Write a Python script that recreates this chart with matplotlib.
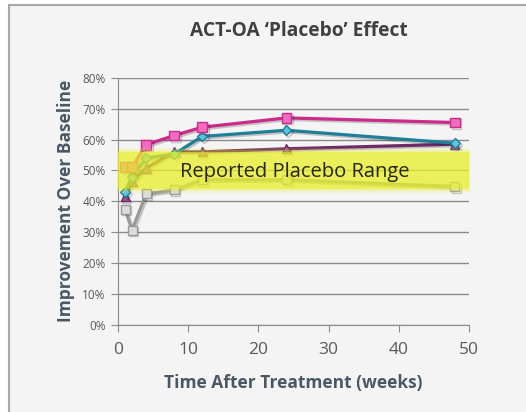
import matplotlib
matplotlib.use("Agg")
import matplotlib.pyplot as plt
import matplotlib.patheffects as pe
from matplotlib.patches import Rectangle
from matplotlib.ticker import FuncFormatter

plt.rcParams['font.family'] = ['Open Sans', 'DejaVu Sans']

# weeks after treatment
weeks = [1, 2, 4, 8, 12, 24, 48]

# improvement over baseline (%)
magenta_vals = [51, 51, 58.3, 61.3, 64, 67, 65.5]
teal_vals = [43, 48, 54, 55.3, 61, 63, 58.8]
purple_vals = [41.5, 46.5, 50.7, 56, 56, 57, 58.5]
gray_vals = [37.5, 30.7, 42.4, 43.7, 47, 47, 44.8]

band_low, band_high = 44, 56
band_text = "Reported Placebo Range"

fig = plt.figure(figsize=(5.26, 4.12), dpi=100)
fig.patch.set_facecolor("white")
# chart frame
fig.patches.append(Rectangle((9/526, -0.1), 1.2, 1.1 - 5/412, transform=fig.transFigure,
                             facecolor="#f4f4f4", edgecolor="#a8a8a8", lw=1.5, zorder=-5))

ax = fig.add_axes([118/526, 1 - 325/412, 351/526, (325 - 77.7)/412])
ax.set_facecolor("none")

shadow = [pe.SimpleLineShadow(offset=(1.2, -1.2), alpha=0.2), pe.Normal()]

ax.plot(weeks, gray_vals, color="#999999", lw=2.3, marker="s", ms=6.5,
        mfc="#dcdcdc", mec="#9a9a9a", mew=1, zorder=3, path_effects=shadow)
ax.plot(weeks, purple_vals, color="#6e2a68", lw=2.3, marker="^", ms=6.5,
        mfc="#9c5a92", mec="#6e2a68", mew=1, zorder=4, path_effects=shadow)
ax.plot(weeks, teal_vals, color="#1e7f99", lw=2.3, marker="D", ms=5,
        mfc="#5ec3e0", mec="#1e7f99", mew=1, zorder=5, path_effects=shadow)
ax.plot(weeks, magenta_vals, color="#cc2b8c", lw=2.3, marker="s", ms=7,
        mfc="#f06cc0", mec="#cc2b8c", mew=1, zorder=6, path_effects=shadow)

# highlighter band, soft edges
for pad, a in [(1.4, 0.15), (0.7, 0.25), (0.0, 0.62)]:
    ax.add_patch(Rectangle((0 - pad * 0.15, band_low - pad), 50 + pad * 0.3,
                           band_high - band_low + 2 * pad,
                           facecolor="#e8ee2a", edgecolor="none", alpha=a, zorder=7,
                           clip_on=False))
ax.text(25.2, 49.6, band_text, ha="center", va="center", fontsize=14.5,
        color="#26260e", zorder=8)

ax.set_xlim(0, 50)
ax.set_ylim(0, 80)
ax.set_xticks(range(0, 51, 10))
ax.set_yticks(range(0, 81, 10))
ax.yaxis.set_major_formatter(FuncFormatter(lambda v, p: f"{int(v)}%"))
ax.grid(axis="y", color="#8a8a8a", lw=1)
ax.set_axisbelow(True)
for s in ["top", "right"]:
    ax.spines[s].set_visible(False)
for s in ["left", "bottom"]:
    ax.spines[s].set_color("#8a8a8a")
ax.tick_params(axis="y", colors="#8a8a8a", labelcolor="#595959", labelsize=8.5, length=5, pad=4)
ax.tick_params(axis="x", colors="#8a8a8a", labelcolor="#595959", labelsize=12.5, length=5, pad=7)

ax.set_xlabel("Time After Treatment (weeks)", fontsize=12.5, fontweight="bold",
              color="#4a5866", labelpad=12)
ax.set_ylabel("Improvement Over Baseline", fontsize=12.5, fontweight="bold",
              color="#4a5866", labelpad=5)

fig.text(299/526, 1 - 31/412, "ACT-OA \u2018Placebo\u2019 Effect", ha="center", va="center",
         fontsize=13.8, fontweight="bold", color="#404040")

fig.savefig("out.png", dpi=100)
